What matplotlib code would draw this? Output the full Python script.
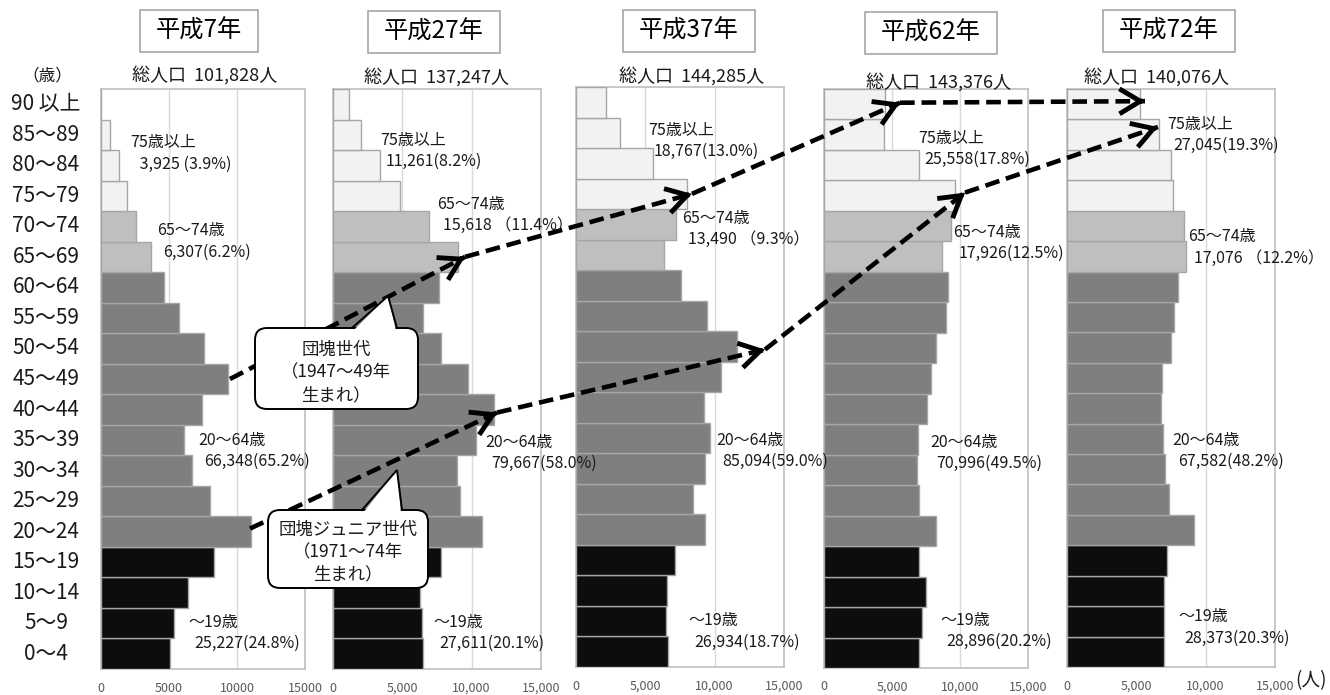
import matplotlib
matplotlib.use('Agg')
import matplotlib.pyplot as plt
import matplotlib.transforms as mtransforms
from matplotlib.patches import FancyBboxPatch, Rectangle, Polygon, FancyArrowPatch
from matplotlib.lines import Line2D

plt.rcParams['font.family'] = ['Noto Sans CJK JP', 'DejaVu Sans']

W, H, DPI = 1330, 695, 100

# ---------------- data ----------------
age_labels = ['0～4', '5～9', '10～14', '15～19', '20～24', '25～29', '30～34',
              '35～39', '40～44', '45～49', '50～54', '55～59', '60～64',
              '65～69', '70～74', '75～79', '80～84', '85～89', '90 以上']

years = ['平成7年', '平成27年', '平成37年', '平成62年', '平成72年']
totals = ['総人口  101,828人', '総人口  137,247人', '総人口  144,285人',
          '総人口  143,376人', '総人口  140,076人']

pop_h7 = [5050, 5390, 6420, 8330, 11000, 8040, 6660, 6125, 7450, 9360,
          7600, 5760, 4630, 3700, 2600, 1890, 1300, 640, 0]
pop_h27 = [6520, 6420, 6280, 7800, 10750, 9130, 8940, 10310, 11590, 9710,
           7820, 6520, 7630, 9000, 6950, 4830, 3380, 2030, 1160]
pop_h37 = [6630, 6510, 6560, 7160, 9330, 8460, 9330, 9640, 9250, 10430,
           11590, 9470, 7550, 6350, 7210, 7980, 5580, 3170, 2160]
pop_h62 = [7020, 7240, 7490, 7020, 8270, 6970, 6850, 6930, 7610, 7880,
           8250, 9000, 9100, 8640, 9320, 9640, 6950, 4400, 4480]
pop_h72 = [7010, 6960, 7010, 7200, 9170, 7370, 7100, 6940, 6770, 6840,
           7490, 7700, 7970, 8590, 8470, 7610, 7510, 6600, 5230]
series = [pop_h7, pop_h27, pop_h37, pop_h62, pop_h72]

xticks = [0, 5000, 10000, 15000]
xtick_labels_first = ['0', '5000', '10000', '15000']
xtick_labels_rest = ['0', '5,000', '10,000', '15,000']

group_labels = [
    [('75歳以上', ' 3,925 (3.9%)'), ('65～74歳', '6,307(6.2%)'),
     ('20～64歳', '66,348(65.2%)'), ('～19歳', '25,227(24.8%)')],
    [('75歳以上', '11,261(8.2%)'), ('65～74歳', '15,618 （11.4%）'),
     ('20～64歳', '79,667(58.0%)'), ('～19歳', '27,611(20.1%)')],
    [('75歳以上', '18,767(13.0%)'), ('65～74歳', '13,490 （9.3%）'),
     ('20～64歳', '85,094(59.0%)'), ('～19歳', '26,934(18.7%)')],
    [('75歳以上', '25,558(17.8%)'), ('65～74歳', '17,926(12.5%)'),
     ('20～64歳', '70,996(49.5%)'), ('～19歳', '28,896(20.2%)')],
    [('75歳以上', '27,045(19.3%)'), ('65～74歳', '17,076 （12.2%）'),
     ('20～64歳', '67,582(48.2%)'), ('～19歳', '28,373(20.3%)')],
]

callout_texts = ['団塊世代\n（1947～49年\n生まれ）',
                 '団塊ジュニア世代\n（1971～74年\n生まれ）']

# ---------------- layout (pixel positions) ----------------
axes_px = [(101, 89, 305, 669), (333, 89, 541, 669), (576, 87, 784, 667),
           (824, 89, 1028, 668), (1067, 89, 1275, 667)]
title_px = [(199, 31), (434, 32), (689, 31), (931, 33), (1169, 31)]
total_px = [(205, 75), (436, 77), (692, 76), (938, 82), (1157, 77)]
label_px = [
    [(130, 143), (157, 231), (198, 440), (188, 622)],
    [(380, 140), (437, 204), (485, 442), (433, 622)],
    [(648, 130), (682, 218), (716, 440), (688, 621)],
    [(918, 138), (953, 232), (930, 442), (940, 620)],
    [(1167, 124), (1188, 237), (1172, 440), (1178, 617)],
]
# arrow way-points: (panel, x value, row position)
arrow_paths = [
    [(0, 9485, 9.0), (1, 9520, 13.0), (2, 8365, 15.0), (3, 5590, 18.05), (4, 5625, 18.1)],
    [(0, 10956, 4.1), (1, 11830, 7.9), (2, 13630, 9.9), (3, 10370, 15.1), (4, 6560, 17.25)],
]

fig = plt.figure(figsize=(W / DPI, H / DPI), dpi=DPI)
fig.patch.set_facecolor('white')
T = mtransforms.Affine2D().scale(1 / W, -1 / H).translate(0, 1) + fig.transFigure

colors = ['#0d0d0d'] * 4 + ['#7f7f7f'] * 9 + ['#bfbfbf'] * 2 + ['#f2f2f2'] * 4
text_col = '#1a1a1a'

axes = []
for i, (l, t, r, b) in enumerate(axes_px):
    ax = fig.add_axes([l / W, 1 - b / H, (r - l) / W, (b - t) / H])
    axes.append(ax)
    ax.barh(range(len(age_labels)), series[i], height=1.0, color=colors,
            edgecolor='#a6a6a6', linewidth=1.0, zorder=3)
    ax.set_xlim(0, 15000)
    ax.set_ylim(-0.5, len(age_labels) - 0.5)
    for gx in (5000, 10000):
        ax.axvline(gx, color='#d9d9d9', lw=1.0, zorder=1)
    for s in ax.spines.values():
        s.set_color('#bfbfbf')
        s.set_linewidth(1.2)
    ax.set_yticks([])
    ax.set_xticks(xticks)
    ax.set_xticklabels(xtick_labels_first if i == 0 else xtick_labels_rest,
                       fontsize=9, color='#595959')
    ax.tick_params(axis='x', length=0, pad=9)

    cx, cy = title_px[i]
    fig.text(cx, cy, years[i], transform=T, ha='center', va='center',
             fontsize=17.5, color='#000000', zorder=10)
    fig.text(total_px[i][0], total_px[i][1], totals[i], transform=T,
             ha='center', va='center', fontsize=13, color=text_col, zorder=10)
    for k, (l1, l2) in enumerate(group_labels[i]):
        px, py = label_px[i][k]
        fig.text(px, py, l1, transform=T, ha='left', va='center',
                 fontsize=11.5, color=text_col, zorder=10)
        fig.text(px + 6, py + 21, l2, transform=T, ha='left', va='center',
                 fontsize=11.5, color=text_col, zorder=10)

# title rectangles sized to text
renderer = fig.canvas.get_renderer()
for txt in list(fig.texts):
    if txt.get_text() in years:
        bb = txt.get_window_extent(renderer)
        cx = (bb.x0 + bb.x1) / 2
        cy_disp = (bb.y0 + bb.y1) / 2
        w = bb.width + 32
        h = 42
        rect = Rectangle((cx - w / 2, cy_disp - h / 2), w, h, transform=None,
                         facecolor='white', edgecolor='#a6a6a6', lw=1.2, zorder=9)
        fig.add_artist(rect)

# age labels
ax1 = axes[0]
blend = mtransforms.blended_transform_factory(T, ax1.transData)
for j, lab in enumerate(age_labels):
    fig.text(46, j, lab, transform=blend, ha='center', va='center',
             fontsize=15, color=text_col)
fig.text(47, 76, '（歳）', transform=T, ha='center', va='center',
         fontsize=12, color=text_col)
fig.text(1311, 681, '(人)', transform=T, ha='center', va='center',
         fontsize=13.5, color=text_col)

# arrows
to_fig = fig.transFigure.inverted()
for path in arrow_paths:
    pts = [axes[p].transData.transform((xv, yv)) for p, xv, yv in path]
    for k in range(1, len(pts)):
        a, b = pts[k - 1], pts[k]
        fa, fb = to_fig.transform(a), to_fig.transform(b)
        ln = Line2D([fa[0], fb[0]], [fa[1], fb[1]], transform=fig.transFigure,
                    color='black', lw=3.3, dashes=(3.2, 1.5),
                    dash_capstyle='butt', zorder=5)
        fig.add_artist(ln)
        d = b - a
        d = d / (d ** 2).sum() ** 0.5
        near = b - d * 4
        head = FancyArrowPatch(tuple(near), tuple(b), transform=None,
                               arrowstyle='->,head_length=0.75,head_width=0.45',
                               mutation_scale=20, lw=3.5, color='black',
                               shrinkA=0, shrinkB=0, zorder=5,
                               joinstyle='miter', capstyle='butt')
        fig.add_artist(head)

# callouts
callouts = [
    dict(box=(255, 328, 163, 81), ptr=[(352, 328), (388, 296), (397, 328)],
         lines_y=[350, 372, 395], cx=336),
    dict(box=(268, 510, 160, 78), ptr=[(362, 510), (397, 470), (402, 510)],
         lines_y=[530, 552, 574], cx=348),
]
for c, txt in zip(callouts, callout_texts):
    x, y, w, h = c['box']
    fig.add_artist(FancyBboxPatch((x, y), w, h,
                                  boxstyle='round,pad=0,rounding_size=12',
                                  transform=T, facecolor='white',
                                  edgecolor='black', lw=1.4, zorder=6))
    p0, tip, p1 = c['ptr']
    fig.add_artist(Polygon([(p0[0] + 1, p0[1] + 3), tip, (p1[0] - 1, p1[1] + 3)],
                           closed=True, transform=T, facecolor='white',
                           edgecolor='none', zorder=7))
    fig.add_artist(Line2D([p0[0], tip[0], p1[0]], [p0[1], tip[1], p1[1]],
                          transform=T, color='black', lw=1.4, zorder=7,
                          solid_joinstyle='miter'))
    for line, ly in zip(txt.split('\n'), c['lines_y']):
        fig.text(c['cx'], ly, line, transform=T, ha='center', va='center',
                 fontsize=12.5, color=text_col, zorder=8)

fig.savefig('out.png', dpi=DPI, facecolor='white')
